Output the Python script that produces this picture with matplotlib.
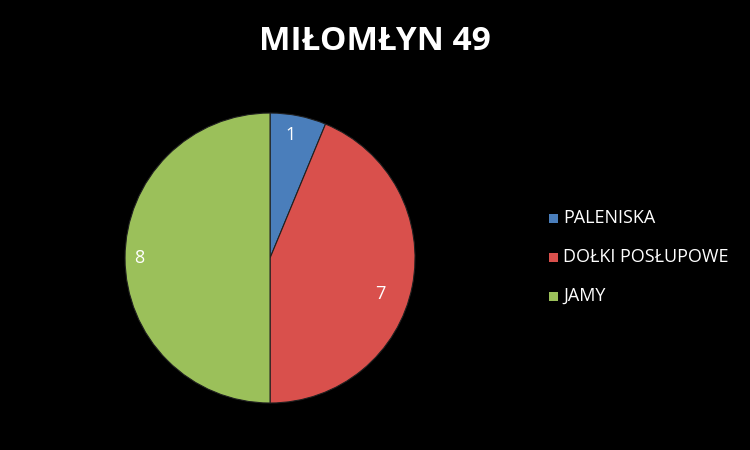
import numpy as np
import matplotlib.pyplot as plt
from matplotlib.patches import Rectangle

title = "MIŁOMŁYN 49"
categories = ["PALENISKA", "DOŁKI POSŁUPOWE", "JAMY"]
values = [1, 7, 8]
colors = ["#4a7ebb", "#d9504c", "#9bc05a"]

plt.rcParams['font.family'] = ['Open Sans', 'DejaVu Sans']

fig = plt.figure(figsize=(7.5, 4.5), dpi=100, facecolor="black")
ax = fig.add_axes([0.1667, 0.1044, 0.3867, 0.6444])
ax.set_facecolor("black")

wedges, texts = ax.pie(values, colors=colors, startangle=90, counterclock=False,
                       labels=[str(v) for v in values], labeldistance=0.84,
                       wedgeprops=dict(edgecolor="#202020", linewidth=0.8),
                       textprops=dict(color="white", fontsize=13))

# nudge labels to where Excel put them
label_r = [0.86, 0.80, 0.90]
label_shift = [2, -7, 0]
for w, t, r, s in zip(wedges, texts, label_r, label_shift):
    ang = np.deg2rad((w.theta1 + w.theta2) / 2 + s)
    t.set_position((r * np.cos(ang), r * np.sin(ang)))
    t.set_ha("center")
    t.set_va("center")
ax.set_xlim(-1.0, 1.0)
ax.set_ylim(-1.0, 1.0)
ax.set_aspect("equal")

fig.text(0.5, 0.907, title, ha="center", va="center", color="white",
         fontsize=24, fontweight="bold")

leg_y = [1 - 218 / 450, 1 - 257 / 450, 1 - 296 / 450]
for name, c, y in zip(categories, colors, leg_y):
    fig.patches.append(Rectangle((549 / 750, y - 4.5 / 450), 9 / 750, 9 / 450,
                                 transform=fig.transFigure, facecolor=c,
                                 edgecolor="none"))
    fig.text(563 / 750, y, name, ha="left", va="center", color="white", fontsize=13)

fig.savefig("out.png", facecolor="black")
